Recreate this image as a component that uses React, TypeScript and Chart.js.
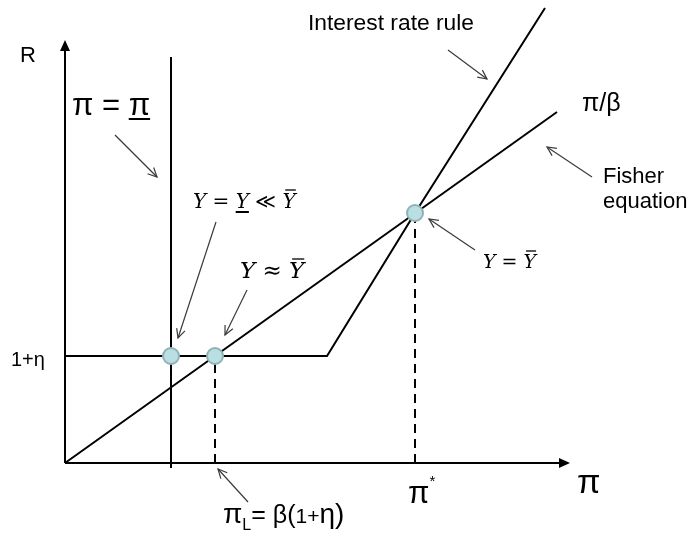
import React, { useEffect, useRef } from 'react';
import { Chart, registerables } from 'chart.js';
Chart.register(...registerables);

// Diagram coordinates (π on x, R on y)
const fisherLine = [{ x: 0, y: 0 }, { x: 9.84, y: 7.02 }];
const ruleLine = [{ x: 0, y: 2.14 }, { x: 5.24, y: 2.14 }, { x: 7, y: 5 }, { x: 9.6, y: 9.1 }];
const floorLine = [{ x: 2.12, y: 8.12 }, { x: 2.12, y: -0.1 }];
const piLDash = [{ x: 3, y: 0 }, { x: 3, y: 2.14 }];
const piStarDash = [{ x: 7, y: 0 }, { x: 7, y: 5 }];
const xAxisLine = [{ x: 0, y: 0 }, { x: 10.06, y: 0 }];
const yAxisLine = [{ x: 0, y: 0 }, { x: 0, y: 8.42 }];
const equilibria = [{ x: 2.12, y: 2.14 }, { x: 3, y: 2.14 }, { x: 7, y: 5 }];

// annotation arrows: [fromX, fromY, toX, toY]
const arrows = [
  [1.0, 6.56, 1.84, 5.72],
  [7.66, 8.26, 8.44, 7.68],
  [10.54, 5.72, 9.64, 6.32],
  [8.2, 4.26, 7.28, 4.88],
  [3.02, 4.82, 2.26, 2.5],
  [3.64, 3.46, 3.2, 2.56],
  [3.66, -0.78, 3.06, -0.12],
];

const SANS = '"Liberation Sans", Arial, sans-serif';
const DV = '"DejaVu Serif", serif';

type Seg = { t: string; f: string; dy?: number; under?: boolean; over?: boolean };
type Label = { x: number; y: number; segs: Seg[] };

const labels: Label[] = [
  { x: -0.9, y: 8.02, segs: [{ t: 'R', f: `22px ${SANS}` }] },
  { x: 0.14, y: 6.96, segs: [{ t: 'π = ', f: `31px ${SANS}` }, { t: 'π', f: `31px ${SANS}`, under: true }] },
  { x: 4.86, y: 8.66, segs: [{ t: 'Interest rate rule', f: `22.8px ${SANS}` }] },
  { x: 10.34, y: 7.04, segs: [{ t: 'π/β', f: `25px ${SANS}` }] },
  { x: 10.76, y: 5.6, segs: [{ t: 'Fisher', f: `22px ${SANS}` }] },
  { x: 10.76, y: 5.1, segs: [{ t: 'equation', f: `22px ${SANS}` }] },
  {
    x: 2.56, y: 5.1, segs: [
      { t: 'Y', f: `italic 20px ${DV}` }, { t: ' = ', f: `20px ${DV}` }, { t: 'Y', f: `italic 20px ${DV}`, under: true },
      { t: ' ≪ ', f: `20px ${DV}` }, { t: 'Y', f: `italic 20px ${DV}`, over: true },
    ],
  },
  {
    x: 3.5, y: 3.7, segs: [
      { t: 'Y', f: `italic 23px ${DV}` }, { t: ' ≈ ', f: `23px ${DV}` },
      { t: 'Y', f: `italic 23px ${DV}`, over: true },
    ],
  },
  {
    x: 8.36, y: 3.9, segs: [
      { t: 'Y', f: `italic 19px ${DV}` }, { t: ' = ', f: `19px ${DV}` }, { t: 'Y', f: `italic 19px ${DV}`, over: true },
    ],
  },
  { x: -1.08, y: 1.94, segs: [{ t: '1+η', f: `20px ${SANS}` }] },
  {
    x: 3.16, y: -1.2, segs: [
      { t: 'π', f: `28px ${SANS}` }, { t: 'L', f: `16px ${SANS}`, dy: 7 },
      { t: '= β(', f: `25px ${SANS}` }, { t: '1+', f: `21px ${SANS}` }, { t: 'η)', f: `28px ${SANS}` },
    ],
  },
  { x: 6.86, y: -0.8, segs: [{ t: 'π', f: `31px ${SANS}` }, { t: '*', f: `15px ${SANS}`, dy: -17 }] },
  { x: 10.24, y: -0.6, segs: [{ t: 'π', f: `34px ${SANS}` }] },
];

const overlay = {
  id: 'overlay',
  afterDatasetsDraw(chart: any) {
    const { ctx } = chart;
    const sx = chart.scales.x, sy = chart.scales.y;
    const px = (v: number) => sx.getPixelForValue(v);
    const py = (v: number) => sy.getPixelForValue(v);
    ctx.save();
    // axis arrowheads
    ctx.fillStyle = '#000';
    const xe = xAxisLine[1], ye = yAxisLine[1];
    let tx = px(xe.x) + 2, ty = py(xe.y);
    ctx.beginPath(); ctx.moveTo(tx, ty); ctx.lineTo(tx - 11, ty - 5); ctx.lineTo(tx - 11, ty + 5); ctx.closePath(); ctx.fill();
    tx = px(ye.x); ty = py(ye.y) - 2;
    ctx.beginPath(); ctx.moveTo(tx, ty); ctx.lineTo(tx - 5, ty + 11); ctx.lineTo(tx + 5, ty + 11); ctx.closePath(); ctx.fill();

    // annotation arrows
    ctx.strokeStyle = '#3a3a3a';
    ctx.lineWidth = 1.2;
    for (const a of arrows) {
      const x1 = px(a[0]), y1 = py(a[1]), x2 = px(a[2]), y2 = py(a[3]);
      ctx.beginPath(); ctx.moveTo(x1, y1); ctx.lineTo(x2, y2); ctx.stroke();
      const ang = Math.atan2(y2 - y1, x2 - x1);
      const L = 10, w = 0.45;
      ctx.beginPath();
      ctx.moveTo(x2 - L * Math.cos(ang - w), y2 - L * Math.sin(ang - w));
      ctx.lineTo(x2, y2);
      ctx.lineTo(x2 - L * Math.cos(ang + w), y2 - L * Math.sin(ang + w));
      ctx.stroke();
    }

    // labels
    ctx.fillStyle = '#000';
    ctx.strokeStyle = '#000';
    ctx.textBaseline = 'alphabetic';
    ctx.textAlign = 'left';
    for (const lb of labels) {
      let cx = px(lb.x);
      const by = py(lb.y);
      for (const s of lb.segs) {
        ctx.font = s.f;
        const m = ctx.measureText(s.t);
        const w = m.width;
        const yy = by + (s.dy || 0);
        ctx.fillText(s.t, cx, yy);
        if (s.under) {
          ctx.lineWidth = 2;
          ctx.beginPath(); ctx.moveTo(cx, yy + 4); ctx.lineTo(cx + w, yy + 4); ctx.stroke();
        }
        if (s.over) {
          ctx.lineWidth = 1.3;
          const top = yy - m.actualBoundingBoxAscent - 3;
          ctx.beginPath(); ctx.moveTo(cx + w * 0.2, top); ctx.lineTo(cx + w * 1.0, top); ctx.stroke();
        }
        cx += w;
      }
    }
    ctx.restore();
  },
};

const line = (data: any[], extra: any = {}) => ({
  type: 'scatter',
  data,
  showLine: true,
  borderColor: '#000',
  borderWidth: 2,
  pointRadius: 0,
  pointHoverRadius: 0,
  order: 1,
  ...extra,
});

export default function App() {
  const ref = useRef<HTMLCanvasElement>(null);
  useEffect(() => {
    const chart = new Chart(ref.current!, {
      type: 'scatter',
      data: {
        datasets: [
          {
            data: equilibria,
            pointRadius: 8,
            pointHoverRadius: 8,
            pointBackgroundColor: '#b9dfe2',
            pointBorderColor: '#8fb2b6',
            pointBorderWidth: 2,
            showLine: false,
            order: 0,
          } as any,
          line(fisherLine),
          line(ruleLine),
          line(floorLine),
          line(piLDash, { borderDash: [9, 6] }),
          line(piStarDash, { borderDash: [9, 6] }),
          line(xAxisLine),
          line(yAxisLine),
        ],
      },
      options: {
        animation: false,
        responsive: false,
        events: [],
        layout: { padding: 0, autoPadding: false },
        plugins: { legend: { display: false }, tooltip: { enabled: false } },
        scales: {
          x: { type: 'linear', display: false, min: -1.3, max: 12.58 },
          y: { type: 'linear', display: false, min: -1.56, max: 9.26 },
        },
      },
      plugins: [overlay],
    } as any);
    return () => chart.destroy();
  }, []);
  return (
    <div style={{ position: 'fixed', left: 0, top: 0, width: 694, height: 541, background: '#fff' }}>
      <canvas ref={ref} width={694} height={541} />
    </div>
  );
}
